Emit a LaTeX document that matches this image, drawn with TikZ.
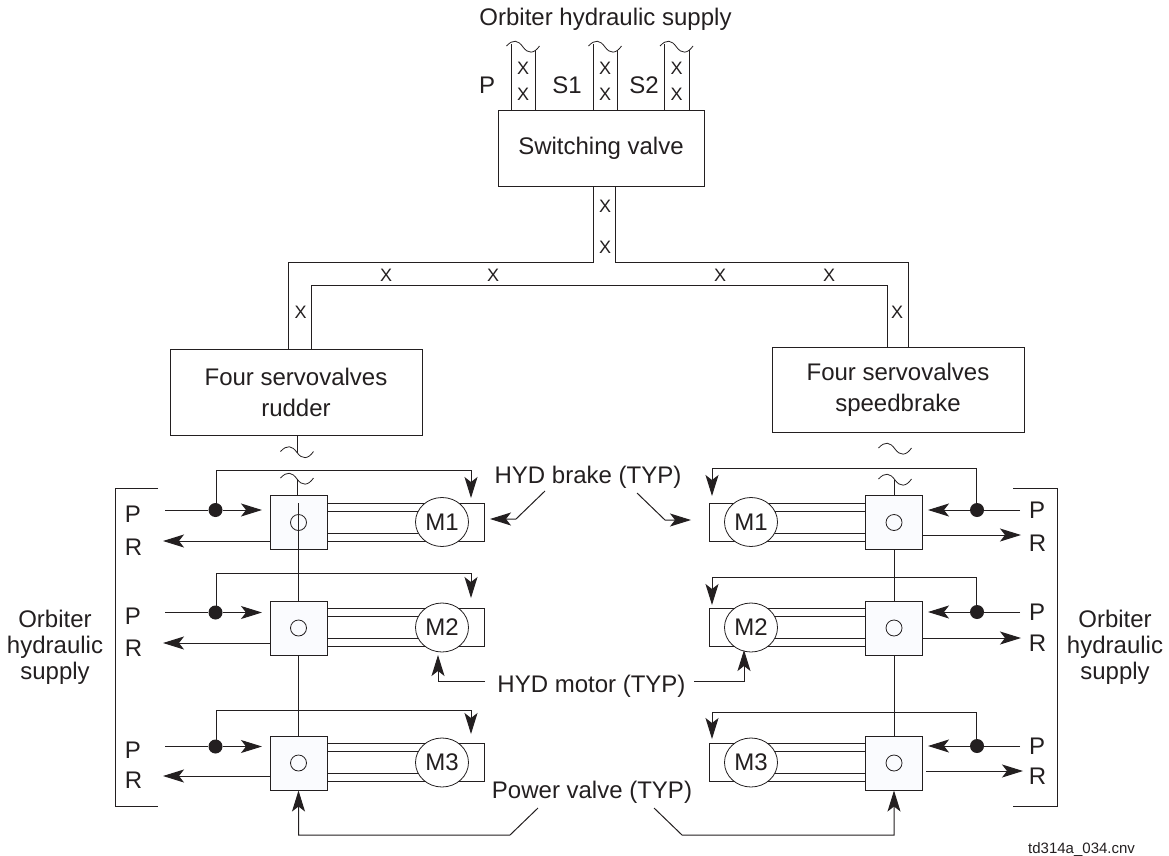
\documentclass[tikz,border=0pt]{standalone}
\usepackage{fontspec}
\setmainfont{Liberation Sans}
\usetikzlibrary{arrows.meta,calc,shapes.geometric}
\definecolor{ink}{HTML}{231F20}
\definecolor{valvefill}{HTML}{FAFBFE}
\newcommand{\wavymark}[2]{\draw[line width=.8pt] (#1-16.5,#2-1) .. controls (#1-10,#2-8) and (#1-5,#2-7) .. (#1,#2) .. controls (#1+5,#2+7) and (#1+11,#2+7) .. (#1+16.5,#2-1);}
\tikzset{
  every node/.style={text=ink},
  lnk/.style={draw=ink,line width=1pt},
  arr/.style={lnk,-{Stealth[length=21pt,width=13pt,inset=5pt]}},
  big/.style={font=\fontsize{24}{31}\selectfont,inner sep=0pt},
  small/.style={font=\fontsize{18}{20}\selectfont,inner sep=0pt},
  boxed/.style={draw=ink,line width=1pt,fill=white,big,align=center,minimum height=#1},
  valve/.style={draw=ink,line width=1pt,fill=valvefill,minimum width=57pt,minimum height=54pt,inner sep=0pt},
  cyl/.style={draw=ink,line width=1pt,minimum width=157pt,minimum height=38pt,inner sep=0pt},
  motor/.style={draw=ink,line width=.8pt,fill=white,ellipse,minimum width=53pt,minimum height=49pt,big},
  port/.style={draw=ink,line width=.8pt,circle,minimum size=16pt,inner sep=0pt},
  junction/.style={circle,fill=ink,minimum size=14pt,inner sep=0pt},
}
\begin{document}
\begin{tikzpicture}[x=1pt,y=-1pt,color=ink]
\useasboundingbox (0,0) rectangle (1169,856);
\node[big,anchor=base] (title) at (605.5,26) {Orbiter hydraulic supply};
% switching valve
\node[boxed=75pt,minimum width=206pt] (swv) at (601,148.5) {Switching valve};
\foreach \n/\xa/\xb/\xc in {P/511/535/523,S/593/617/605,T/664/689/676.5}{
  \coordinate (a\n) at (\xa,44.5);
  \coordinate (b\n) at (\xb,50);
  \draw[lnk] (a\n) -- (a\n |- swv.north);
  \draw[lnk] (b\n) -- (b\n |- swv.north);
  \wavymark{\xc}{47}
  \node[small] (xu\n) at (\xc,68.5) {X};
  \node[small] (xd\n) at (\xc,94) {X};
}
\node[big] (lP) at (487,85) {P};
\node[big] (lS1) at (567,85) {S1};
\node[big] (lS2) at (644,85) {S2};
% servovalve boxes
\node[boxed=86pt,minimum width=252pt] (servoL) at (296,392) {Four servovalves\\rudder};
\node[boxed=85pt,minimum width=252pt] (servoR) at (898,389.5) {Four servovalves\\speedbrake};
% main pipes
\coordinate (tl) at (593,262);
\coordinate (tr) at (615.5,262);
\coordinate (ol) at (288,262);
\coordinate (or) at (908,262);
\coordinate (il) at (311,285);
\coordinate (ir) at (887,285);
\draw[lnk] (tl |- swv.south) -- (tl) -- (ol) -- (ol |- servoL.north);
\draw[lnk] (tr |- swv.south) -- (tr) -- (or) -- (or |- servoR.north);
\draw[lnk] (il |- servoL.north) -- (il) -- (ir) -- (ir |- servoR.north);
\node[small] (x1) at (605,206) {X};
\node[small] (x2) at (605,247) {X};
\node[small] (x3) at (386,275) {X};
\node[small] (x4) at (493,275) {X};
\node[small] (x5) at (720,275) {X};
\node[small] (x6) at (829,275) {X};
\node[small] (x7) at (300.5,312) {X};
\node[small] (x8) at (897,312) {X};
% left rows
\foreach \r/\cy/\by/\ty/\py/\ry/\pl/\rl/\mt in {1/522.5/470/498/510/541/514/547/M1,2/628/573/598/612.5/643/616/648/M2,3/763/710/734/746.5/776/750/780/M3}{
  \pgfmathsetmacro{\cyly}{\cy-0.5}
  \pgfmathsetmacro{\ia}{\cy-11.5}
  \pgfmathsetmacro{\ib}{\cy+10.5}
  \node[cyl] (cL\r) at (405.5,\cyly) {};
  \node[valve] (vL\r) at (298.5,\cy) {};
  \node[port] (oL\r) at (298.5,\cy) {};
  \coordinate (mL\r c) at (442,\cyly);
  \draw[lnk] (vL\r.east |- 0,\ia) -- (mL\r c |- 0,\ia);
  \draw[lnk] (vL\r.east |- 0,\ib) -- (mL\r c |- 0,\ib);
  \node[motor] (mL\r) at (mL\r c) {\mt};
  \coordinate (pL\r) at (165,\py);
  \coordinate (pT\r) at (262,\py);
  \coordinate (rT\r) at (163,\ry);
  \node[junction] (jL\r) at (215.5,\py) {};
  \coordinate (bL\r) at (216,\by);
  \coordinate (bT\r) at (471,\ty);
  \draw[lnk] (pL\r) -- (jL\r);
  \draw[arr] (jL\r) -- (pT\r);
  \draw[arr] (vL\r.west |- rT\r) -- (rT\r);
  \draw[lnk] (bL\r |- jL\r) -- (bL\r);
  \draw[arr] (bL\r) -- (bT\r |- bL\r) -- (bT\r);
  \node[big] (lPL\r) at (133,\pl) {P};
  \node[big] (lRL\r) at (133.5,\rl) {R};
}
% right rows
\foreach \r/\cy/\by/\ty/\py/\ry/\pl/\rl/\rs/\rt/\mt in {1/522.5/468/496/510/535/510/543/923/1021/M1,2/628/577/605/612/638/612/643/923/1021/M2,3/763/712/739/746/771/746/776/926/1023/M3}{
  \pgfmathsetmacro{\cyly}{\cy-0.5}
  \pgfmathsetmacro{\ia}{\cy-11.5}
  \pgfmathsetmacro{\ib}{\cy+10.5}
  \node[cyl] (cR\r) at (787.5,\cyly) {};
  \node[valve] (vR\r) at (894,\cy) {};
  \node[port] (oR\r) at (894,\cy) {};
  \coordinate (mR\r c) at (751,\cyly);
  \draw[lnk] (vR\r.west |- 0,\ia) -- (mR\r c |- 0,\ia);
  \draw[lnk] (vR\r.west |- 0,\ib) -- (mR\r c |- 0,\ib);
  \node[motor] (mR\r) at (mR\r c) {\mt};
  \coordinate (pR\r) at (1020,\py);
  \coordinate (qT\r) at (928,\py);
  \coordinate (rS\r) at (\rs,\ry);
  \coordinate (sT\r) at (\rt,\ry);
  \node[junction] (jR\r) at (977,\py) {};
  \coordinate (bR\r) at (976,\by);
  \coordinate (cT\r) at (712,\ty);
  \draw[lnk] (pR\r) -- (jR\r);
  \draw[arr] (jR\r) -- (qT\r);
  \draw[arr] (rS\r) -- (sT\r);
  \draw[lnk] (bR\r |- jR\r) -- (bR\r);
  \draw[arr] (bR\r) -- (cT\r |- bR\r) -- (cT\r);
  \node[big] (lPR\r) at (1037,\pl) {P};
  \node[big] (lRR\r) at (1037.5,\rl) {R};
}
% central lines and wavy breaks
\coordinate (wL1) at (297,452.5);
\coordinate (wL2) at (297,479);
\coordinate (wR2) at (894,480);
\coordinate (cLin) at (298.5,503);
\wavymark{297}{452.5}
\wavymark{297}{479}
\wavymark{895}{449}
\wavymark{895}{480}
\draw[lnk] (servoL.south -| wL1) -- (wL1);
\draw[lnk] (wL2) -- (wL2 |- vL1.north);
\draw[lnk] (cLin) -- (vL2.north);
\draw[lnk] (vL2.south) -- (vL3.north);
\draw[lnk] (wR2) -- (vR1.north);
\draw[lnk] (vR1.south) -- (vR2.north);
\draw[lnk] (vR2.south) -- (vR3.north);
% brackets
\coordinate (brLa) at (158,488);
\coordinate (brLb) at (115,488);
\coordinate (brLc) at (115,806);
\coordinate (brLd) at (158,806);
\coordinate (brRa) at (1013,488);
\coordinate (brRb) at (1057,488);
\coordinate (brRc) at (1057,806);
\coordinate (brRd) at (1013,806);
\draw[lnk] (brLa) -- (brLb) -- (brLc) -- (brLd);
\draw[lnk] (brRa) -- (brRb) -- (brRc) -- (brRd);
\node[big,align=center,font=\fontsize{24}{26}\selectfont] (supL) at (55,647) {Orbiter\\hydraulic\\supply};
\node[big,align=center,font=\fontsize{24}{26}\selectfont] (supR) at (1115,647) {Orbiter\\hydraulic\\supply};
% callouts
\node[big,anchor=base] (brake) at (588,483) {HYD brake (TYP)};
\node[big,anchor=base] (hmotor) at (591.5,692) {HYD motor (TYP)};
\node[big,anchor=base] (pvalve) at (592,798) {Power valve (TYP)};
\coordinate (k1a) at (545,491);
\coordinate (k1b) at (516,519);
\coordinate (k1t) at (490,519);
\coordinate (k2a) at (637,493);
\coordinate (k2b) at (665,520);
\coordinate (k2t) at (691,520);
\draw[arr] (k1a) -- (k1b) -- (k1t);
\draw[arr] (k2a) -- (k2b) -- (k2t);
\coordinate (h1a) at (485,681);
\coordinate (h1b) at (438,681);
\coordinate (h1t) at (438,655);
\coordinate (h2a) at (694,681);
\coordinate (h2b) at (744,681);
\coordinate (h2t) at (744,650);
\draw[arr] (h1a) -- (h1b) -- (h1t);
\draw[arr] (h2a) -- (h2b) -- (h2t);
\coordinate (p1a) at (538,808);
\coordinate (p1b) at (510,835);
\coordinate (p1c) at (298.5,835);
\coordinate (p2a) at (654,808);
\coordinate (p2b) at (682,835);
\coordinate (p2c) at (894,835);
\draw[arr] (p1a) -- (p1b) -- (p1c) -- (vL3.south);
\draw[arr] (p2a) -- (p2b) -- (p2c) -- (vR3.south);
\node[anchor=base west,inner sep=0pt,font=\fontsize{15}{17}\selectfont] (cap) at (1028,853) {td314a\_034.cnv};
\end{tikzpicture}
\end{document}
